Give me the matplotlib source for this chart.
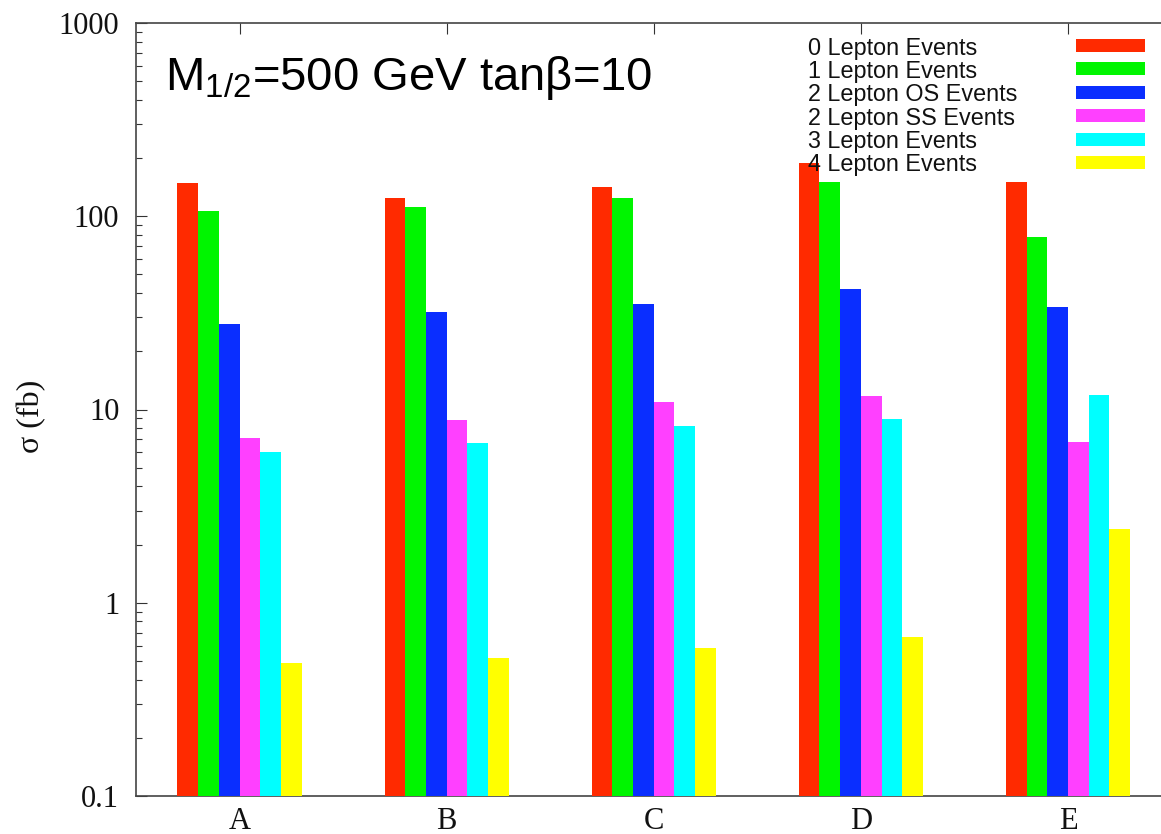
import numpy as np
import matplotlib
matplotlib.use("Agg")
import matplotlib.pyplot as plt
from matplotlib.patches import Rectangle
from matplotlib.transforms import Affine2D

# data
points = ["A", "B", "C", "D", "E"]
series_names = ["0 Lepton Events", "1 Lepton Events", "2 Lepton OS Events",
                "2 Lepton SS Events", "3 Lepton Events", "4 Lepton Events"]
lep0 = [149, 125, 141, 188, 151]
lep1 = [106, 112, 125, 151, 78]
lep2_os = [27.6, 31.9, 35.3, 42.0, 33.8]
lep2_ss = [7.1, 8.85, 10.9, 11.8, 6.8]
lep3 = [6.05, 6.7, 8.2, 8.9, 11.9]
lep4 = [0.49, 0.515, 0.58, 0.665, 2.41]
y_ticks = [0.1, 1, 10, 100, 1000]
y_tick_labels = ["0.1", "1", "10", "100", "1000"]

colors = ["#ff2a00", "#00f500", "#0a2eff", "#ff40ff", "#00ffff", "#ffff00"]
all_series = [lep0, lep1, lep2_os, lep2_ss, lep3, lep4]

plt.rcParams['mathtext.fontset'] = 'custom'
plt.rcParams['mathtext.rm'] = 'Liberation Sans'
plt.rcParams['mathtext.it'] = 'Liberation Sans:italic'

W, H = 1161, 834
fig = plt.figure(figsize=(W / 100, H / 100), dpi=100)

# axes box in pixels (right edge runs a bit past the picture, like the original crop)
left_px, right_px, top_px, bot_px = 136, 1171.5, 23, 796
ax = fig.add_axes([left_px / W, 1 - bot_px / H, (right_px - left_px) / W, (bot_px - top_px) / H])

# pixel coords measured from the top-left of the image
px = Affine2D().scale(1 / W, -1 / H).translate(0, 1) + fig.transFigure

ax.set_yscale('log')
x = np.arange(len(points))
bar_w = 0.1
for i, vals in enumerate(all_series):
    ax.bar(x + (i - 2.5) * bar_w, vals, width=bar_w, color=colors[i],
           linewidth=0, zorder=3)

ax.set_xlim(-0.5, 4.5)
ax.set_ylim(0.1, 1000)

# ticks like gnuplot: inside, mirrored
ax.set_yticks(y_ticks)
ax.set_yticklabels(y_tick_labels)
ax.set_xticks(x)
ax.set_xticklabels(points)
ax.tick_params(axis='y', which='major', direction='in', length=8, width=0.8,
               right=True, pad=12, labelsize=22, color='#333333')
ax.tick_params(axis='y', which='minor', direction='in', length=4, width=0.8,
               right=True, color='#333333')
ax.tick_params(axis='x', which='major', direction='in', length=8, width=0.8,
               top=True, bottom=False, pad=8, labelsize=22, color='#333333')
ax.tick_params(axis='x', which='minor', bottom=False, top=False)
for lbl in ax.get_xticklabels() + ax.get_yticklabels():
    lbl.set_fontfamily('Liberation Serif')
    lbl.set_color('#111111')

for s in ax.spines.values():
    s.set_linewidth(1.2)
    s.set_color('#444444')

# y label
fig.text(39, 416, "σ (fb)", transform=px, rotation=90, rotation_mode='anchor',
         ha='center', va='baseline', fontsize=23, family='Liberation Serif',
         color='#111111')

# title inside the plot
fig.text(165, 90, r"M$_{\mathrm{1/2}}$=500 GeV tanβ=10", transform=px,
         ha='left', va='baseline', fontsize=34, family='Liberation Sans',
         color='black')

# legend drawn by hand: labels on the left, colour boxes on the right
for i, name in enumerate(series_names):
    yc = 45.5 + 23.4 * i
    fig.text(808, yc, name, transform=px, ha='left', va='center_baseline',
             fontsize=16.8, family='Liberation Sans', color='#111111')
    fig.patches.append(Rectangle((1076, yc - 6.5), 69, 13, transform=px,
                                 facecolor=colors[i], edgecolor='none'))

fig.savefig("out.png", dpi=100)
